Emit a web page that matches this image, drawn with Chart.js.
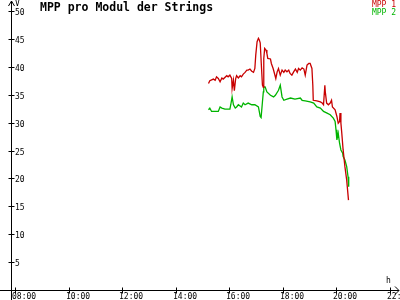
<!DOCTYPE html>
<html>
<head>
<meta charset="utf-8">
<script src="https://cdn.jsdelivr.net/npm/chart.js@4/dist/chart.umd.min.js"></script>
<style>
  html, body { margin: 0; padding: 0; background: #fff; }
  canvas { display: block; }
</style>
</head>
<body>
<canvas id="chart" width="400" height="300"></canvas>
<script>
// Daten (Uhrzeit, Spannung in V)
const mpp1Times = ['15:14','15:17','15:25','15:29','15:32','15:36','15:40','15:44','15:47','15:55','15:58','16:02','16:06','16:07','16:10','16:12','16:15','16:17','16:21','16:25','16:28','16:32','16:36','16:40','16:43','16:47','16:51','16:55','16:58','17:00','17:03','17:06','17:08','17:10','17:13','17:15','17:17','17:18','17:20','17:23','17:25','17:27','17:33','17:35','17:39','17:42','17:45','17:48','17:51','17:55','17:59','18:03','18:06','18:10','18:14','18:17','18:21','18:25','18:29','18:33','18:36','18:40','18:44','18:48','18:51','18:55','18:59','19:02','19:06','19:08','19:09','19:17','19:25','19:29','19:32','19:35','19:36','19:39','19:43','19:47','19:50','19:52','19:58','20:02','20:05','20:08','20:09','20:11','20:13','20:16','20:20','20:24','20:26','20:28'];
const mpp1Values = [37.0,37.5,37.8,37.6,38.2,37.9,37.3,38.0,37.8,38.4,38.2,38.5,37.9,36.1,37.6,35.7,37.9,38.4,38.0,38.4,38.2,38.7,39.0,39.4,39.4,39.6,39.2,39.0,39.7,42.1,44.5,45.1,44.8,44.3,39.7,36.7,36.3,41.5,43.3,43.0,42.4,41.5,41.4,40.6,39.7,38.8,37.9,39.1,39.7,38.5,39.4,39.0,39.4,39.1,39.4,38.8,38.5,39.1,39.6,39.0,39.7,39.4,39.8,39.6,38.5,40.3,40.6,40.6,39.7,36.7,34.0,33.9,33.7,33.5,33.2,36.7,35.5,33.5,33.2,33.5,34.0,32.8,32.3,31.1,29.9,30.2,31.7,29.9,28.1,25.1,22.1,19.7,17.9,16.1];

const mpp2Times = ['15:14','15:17','15:21','15:29','15:36','15:40','15:44','15:51','16:02','16:04','16:07','16:10','16:14','16:17','16:21','16:28','16:32','16:36','16:43','16:51','16:58','17:06','17:10','17:12','17:15','17:17','17:18','17:21','17:25','17:33','17:40','17:44','17:51','17:55','17:59','18:03','18:10','18:18','18:28','18:40','18:44','18:51','19:02','19:10','19:17','19:25','19:32','19:40','19:47','19:54','19:58','20:00','20:02','20:05','20:08','20:11','20:15','20:16','20:20','20:24','20:27','20:28','20:29'];
const mpp2Values = [32.3,32.6,32.0,32.0,32.0,32.8,32.6,32.4,32.4,33.2,34.6,33.2,32.6,32.8,33.2,32.8,33.5,33.2,33.5,33.2,33.2,32.8,31.1,30.9,33.7,35.5,36.4,36.4,35.5,34.9,34.6,34.9,35.8,36.7,34.6,34.0,34.2,34.4,34.2,34.4,34.0,33.9,33.7,33.5,32.8,32.6,32.0,31.7,31.4,30.8,30.2,28.7,26.9,28.1,26.3,25.1,24.5,23.9,23.3,22.1,20.3,19.1,18.5];

const xTickLabels = ['08:00','10:00','12:00','14:00','16:00','18:00','20:00','22:00'];
const yTickValues = [5,10,15,20,25,30,35,40,45,50];
const titleText = 'MPP pro Modul der Strings';

// Uhrzeit -> Stunden als Zahl
function toHours(s) {
    const p = s.split(':');
    return parseInt(p[0], 10) + parseInt(p[1], 10) / 60;
}
function toPoints(times, values) {
    return times.map((t, i) => ({ x: toHours(t), y: values[i] }));
}

const mono = '"DejaVu Sans Mono", "Liberation Mono", monospace';

// Achsen, Beschriftung und Legende selbst zeichnen
const axesPlugin = {
    id: 'axes',
    afterDraw(chart) {
        const c = chart.ctx;
        const xs = chart.scales.x;
        const ys = chart.scales.y;
        const x0 = xs.getPixelForValue(xs.min);
        const y0 = ys.getPixelForValue(0);
        c.save();
        c.strokeStyle = '#000';
        c.fillStyle = '#000';
        c.lineWidth = 1;

        // y-Achse
        c.beginPath();
        c.moveTo(x0 + 0.5, 300);
        c.lineTo(x0 + 0.5, 1);
        c.moveTo(x0 + 0.5, 1);
        c.lineTo(x0 - 2.5, 6);
        c.moveTo(x0 + 0.5, 1);
        c.lineTo(x0 + 3.5, 6);
        // x-Achse
        c.moveTo(0, y0 + 0.5);
        c.lineTo(399, y0 + 0.5);
        c.moveTo(399, y0 + 0.5);
        c.lineTo(395, y0 - 3.5);
        c.moveTo(399, y0 + 0.5);
        c.lineTo(395, y0 + 4.5);
        c.stroke();

        // y-Ticks
        c.font = '8px ' + mono;
        c.textBaseline = 'middle';
        c.textAlign = 'left';
        yTickValues.forEach(v => {
            const py = Math.round(ys.getPixelForValue(v)) + 0.5;
            c.beginPath();
            c.moveTo(x0 - 2.5, py);
            c.lineTo(x0 + 3.5, py);
            c.stroke();
            c.fillText(String(v), x0 + 4, py + 1);
        });

        // x-Ticks
        c.textBaseline = 'top';
        xTickLabels.forEach(l => {
            const px = Math.round(xs.getPixelForValue(toHours(l))) + 0.5;
            c.beginPath();
            c.moveTo(px, y0 - 2.5);
            c.lineTo(px, y0 + 3.5);
            c.stroke();
            c.fillText(l, px - 3.5, y0 + 3);
        });

        // Einheiten
        c.fillText('V', x0 + 4, 0);
        c.fillText('h', 386, y0 - 13);

        // Titel
        c.font = 'bold 11.5px ' + mono;
        c.fillText(titleText, 40, 2);

        // Legende
        c.font = '8px ' + mono;
        c.textAlign = 'right';
        chart.data.datasets.forEach((ds, i) => {
            c.fillStyle = ds.borderColor;
            c.fillText(ds.label, 396, 1 + i * 8);
        });
        c.restore();
    }
};

const ctx = document.getElementById('chart').getContext('2d');
const chart = new Chart(ctx, {
    type: 'line',
    data: {
        datasets: [{
            label: 'MPP 1',
            data: toPoints(mpp1Times, mpp1Values),
            borderColor: '#c80000',
            borderWidth: 1.3,
            pointRadius: 0,
            tension: 0,
            fill: false
        }, {
            label: 'MPP 2',
            data: toPoints(mpp2Times, mpp2Values),
            borderColor: '#00b400',
            borderWidth: 1.3,
            pointRadius: 0,
            tension: 0,
            fill: false
        }]
    },
    options: {
        responsive: false,
        animation: false,
        devicePixelRatio: 1,
        layout: { padding: { left: 11, right: 0, top: 0, bottom: 10 } },
        plugins: {
            legend: { display: false },
            tooltip: { enabled: false },
            title: { display: false }
        },
        scales: {
            x: { type: 'linear', display: false, min: 8 - 4 / 26.75, max: 8 + 385 / 26.75 },
            y: { type: 'linear', display: false, min: 0, max: 290 / 5.58 }
        }
    },
    plugins: [axesPlugin]
});
</script>
</body>
</html>
